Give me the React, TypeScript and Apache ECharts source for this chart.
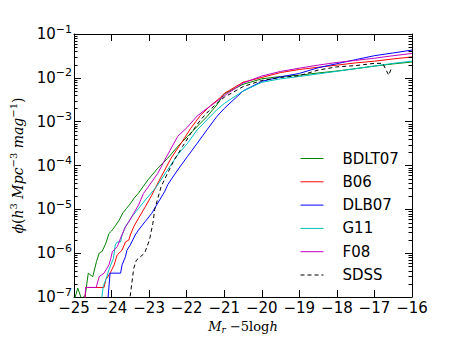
import React, { useEffect, useRef } from "react";
import * as echarts from "echarts";

// ---- data (absolute magnitude M_r - 5 log h, luminosity function phi) ----
const bdlt07Mag = [-25.0, -24.9, -24.8, -24.7, -24.62, -24.5, -24.4, -24.33, -24.25, -24.15, -24.07, -24.0, -23.9, -23.8, -23.7, -23.6, -23.5, -23.4, -23.29, -23.16, -23.03, -22.77, -22.51, -22.24, -21.98, -21.72, -21.46, -21.2, -21.0, -20.5, -20.0, -19.5, -19.0, -18.5, -18.0, -17.5, -17.0, -16.5, -16.0];
const bdlt07Phi = [8e-8, 1.6e-7, 9e-8, 1.1e-7, 3.5e-7, 2.9e-7, 6.5e-7, 1.0e-6, 1.1e-6, 1.7e-6, 2.8e-6, 3.2e-6, 4.2e-6, 5.6e-6, 8.3e-6, 1.05e-5, 1.35e-5, 1.8e-5, 2.3e-5, 3.3e-5, 4.7e-5, 8.7e-5, 1.45e-4, 2.7e-4, 4.6e-4, 7.8e-4, 1.3e-3, 2.4e-3, 4.3e-3, 7.1e-3, 9.5e-3, 1.07e-2, 1.15e-2, 1.29e-2, 1.43e-2, 1.62e-2, 1.85e-2, 2.08e-2, 2.3e-2];

const b06Mag = [-24.72, -24.69, -24.2, -24.15, -24.07, -24.02, -23.93, -23.88, -23.85, -23.72, -23.63, -23.54, -23.5, -23.41, -23.28, -23.1, -22.93, -22.8, -22.68, -22.42, -22.15, -21.89, -21.63, -21.37, -21.11, -21.0, -20.5, -20.0, -19.5, -19.0, -18.5, -18.0, -17.5, -17.0, -16.5, -16.0];
const b06Phi = [5e-8, 1.65e-7, 1.65e-7, 2.5e-7, 3.2e-7, 3.8e-7, 5.4e-7, 7.6e-7, 9.1e-7, 1.17e-6, 1.8e-6, 2.0e-6, 2.6e-6, 4.0e-6, 6.3e-6, 1.15e-5, 2.1e-5, 3.5e-5, 5.5e-5, 1.45e-4, 3.2e-4, 7.1e-4, 1.4e-3, 2.3e-3, 3.5e-3, 4.4e-3, 7.9e-3, 1.02e-2, 1.32e-2, 1.55e-2, 1.74e-2, 1.95e-2, 2.19e-2, 2.4e-2, 2.7e-2, 3.0e-2];

const dlb07Mag = [-24.12, -24.04, -23.76, -23.72, -23.63, -23.59, -23.5, -23.37, -23.28, -23.11, -22.93, -22.8, -22.59, -22.5, -22.24, -21.98, -21.72, -21.46, -21.2, -21.0, -20.5, -20.0, -19.5, -19.0, -18.5, -18.0, -17.5, -17.0, -16.5, -16.0];
const dlb07Phi = [5e-8, 3.5e-7, 3.5e-7, 5.4e-7, 8.3e-7, 1.17e-6, 1.55e-6, 2.6e-6, 3.4e-6, 5.2e-6, 8.1e-6, 1.26e-5, 2.5e-5, 3.7e-5, 7.9e-5, 1.6e-4, 3.2e-4, 6.5e-4, 1.3e-3, 2.0e-3, 5.0e-3, 8.3e-3, 1.05e-2, 1.26e-2, 1.7e-2, 2.1e-2, 2.6e-2, 3.2e-2, 3.7e-2, 4.3e-2];

const g11Mag = [-24.3, -24.22, -24.15, -24.07, -23.95, -23.9, -23.85, -23.76, -23.72, -23.63, -23.46, -23.28, -23.06, -22.8, -22.51, -22.24, -21.98, -21.72, -21.46, -21.2, -21.0, -20.5, -20.0, -19.5, -19.0, -18.5, -18.0, -17.5, -17.0, -16.5, -16.0];
const g11Phi = [5e-8, 1.8e-7, 2.5e-7, 4.2e-7, 7.6e-7, 1.55e-6, 1.8e-6, 1.8e-6, 2.6e-6, 4.0e-6, 6.8e-6, 1.05e-5, 1.8e-5, 3.3e-5, 7.9e-5, 1.75e-4, 3.2e-4, 6.5e-4, 1.1e-3, 1.85e-3, 2.6e-3, 5.0e-3, 7.9e-3, 9.5e-3, 1.07e-2, 1.23e-2, 1.41e-2, 1.62e-2, 1.86e-2, 2.14e-2, 2.4e-2];

const f08Mag = [-24.72, -24.69, -24.41, -24.33, -24.2, -24.07, -24.02, -23.98, -23.85, -23.76, -23.63, -23.54, -23.41, -23.28, -23.15, -23.03, -22.77, -22.51, -22.24, -21.98, -21.72, -21.46, -21.2, -21.0, -20.5, -20.0, -19.5, -19.0, -18.5, -18.0, -17.5, -17.0, -16.5, -16.0];
const f08Phi = [5e-8, 1.65e-7, 1.65e-7, 2.9e-7, 3.5e-7, 5.4e-7, 7.6e-7, 1.07e-6, 1.4e-6, 2.2e-6, 4.0e-6, 5.2e-6, 8.1e-6, 1.26e-5, 2.3e-5, 3.2e-5, 6.6e-5, 1.74e-4, 4.6e-4, 7.5e-4, 1.35e-3, 2.0e-3, 2.9e-3, 3.9e-3, 7.6e-3, 1.1e-2, 1.4e-2, 1.66e-2, 1.95e-2, 2.24e-2, 2.5e-2, 2.8e-2, 3.2e-2, 3.6e-2];

const sdssMag = [-23.55, -23.41, -23.34, -23.12, -22.99, -22.9, -22.85, -22.68, -22.51, -22.33, -22.11, -21.89, -21.63, -21.4, -21.2, -21.0, -20.5, -20.0, -19.5, -19.0, -18.5, -18.0, -17.5, -17.0, -16.78, -16.62, -16.53];
const sdssPhi = [5e-8, 4.5e-7, 6.9e-7, 1.0e-6, 2.0e-6, 4.8e-6, 1.0e-5, 3.3e-5, 6.6e-5, 1.35e-4, 2.7e-4, 5.4e-4, 1.1e-3, 1.8e-3, 2.6e-3, 3.6e-3, 6.3e-3, 8.7e-3, 1.02e-2, 1.12e-2, 1.5e-2, 1.78e-2, 1.9e-2, 2.14e-2, 2.14e-2, 1.15e-2, 1.8e-2];

const seriesNames = ["BDLT07", "B06", "DLB07", "G11", "F08", "SDSS"];
const seriesColors = ["#008000", "#ff0000", "#0000ff", "#00bfbf", "#bf00bf", "#000000"];
const seriesMags = [bdlt07Mag, b06Mag, dlb07Mag, g11Mag, f08Mag, sdssMag];
const seriesPhis = [bdlt07Phi, b06Phi, dlb07Phi, g11Phi, f08Phi, sdssPhi];

const xMin = -25;
const xMax = -16;
const yMin = 1e-7;
const yMax = 1e-1;

const FONT = "DejaVu Sans";
const SERIF = "DejaVu Serif";

// minor tick values for the log axis (2..9 x each decade)
const minorTickVals: number[] = [];
for (let e = -7; e < -1; e++) {
  for (let k = 2; k <= 9; k++) minorTickVals.push(k * Math.pow(10, e));
}

function fmtMinus(v: number) {
  return v < 0 ? "\u2212" + Math.abs(v) : String(v);
}

export default function App() {
  const ref = useRef<HTMLDivElement>(null);
  useEffect(() => {
    if (!ref.current) return;
    const chart = echarts.init(ref.current, undefined, { renderer: "svg" });

    const lineSeries = seriesNames.map((name, i) => ({
      name,
      type: "line",
      data: seriesMags[i].map((m, j) => [m, seriesPhis[i][j]]),
      symbol: "none",
      showSymbol: false,
      clip: true,
      lineStyle: {
        color: seriesColors[i],
        width: 1,
        type: name === "SDSS" ? [4, 3] : "solid",
      },
      itemStyle: { color: seriesColors[i] },
      z: 3 + i,
    }));

    const minorSeries = {
      type: "custom",
      name: "minorTicks",
      xAxisIndex: 0,
      yAxisIndex: 0,
      silent: true,
      clip: false,
      data: minorTickVals.map((v) => [xMin, v]),
      renderItem: (params: any, api: any) => {
        const v = api.value(1);
        const pL = api.coord([xMin, v]);
        const pR = api.coord([xMax, v]);
        const y = Math.round(pL[1]) + 0.5;
        return {
          type: "group",
          children: [
            {
              type: "line",
              shape: { x1: pL[0], y1: y, x2: pL[0] + 3.5, y2: y },
              style: { stroke: "#000", lineWidth: 1 },
            },
            {
              type: "line",
              shape: { x1: pR[0], y1: y, x2: pR[0] - 3.5, y2: y },
              style: { stroke: "#000", lineWidth: 1 },
            },
          ],
        };
      },
      z: 10,
    };

    const axisLine = { show: true, lineStyle: { color: "#000", width: 1 } };

    chart.setOption({
      animation: false,
      backgroundColor: "#fff",
      grid: { left: 68, right: 46, top: 34, bottom: 46, containLabel: false },
      legend: {
        data: seriesNames,
        orient: "vertical",
        left: 295,
        top: 146,
        itemWidth: 23,
        itemHeight: 15,
        itemGap: 8.3,
        itemStyle: { opacity: 0 },
        lineStyle: { width: 1 },
        textStyle: {
          fontFamily: FONT,
          fontSize: 15,
          color: "#000",
          padding: [0, 0, 0, 14],
          lineHeight: 15,
        },
      },
      xAxis: [
        {
          type: "value",
          min: xMin,
          max: xMax,
          interval: 1,
          position: "bottom",
          axisLine,
          splitLine: { show: false },
          axisTick: { show: true, inside: true, length: 7, lineStyle: { color: "#000" } },
          axisLabel: {
            fontFamily: FONT,
            fontSize: 15,
            color: "#000",
            margin: 3,
            formatter: (v: number) => fmtMinus(v),
          },
          name: "{i|M}{sub|r}{n| \u22125log}{i|h}",
          nameLocation: "middle",
          nameGap: 17,
          nameTextStyle: {
            fontFamily: SERIF,
            fontSize: 13,
            color: "#000",
            rich: {
              i: { fontFamily: SERIF, fontStyle: "italic", fontSize: 13, color: "#000" },
              n: { fontFamily: SERIF, fontSize: 13, color: "#000" },
              sub: { fontFamily: SERIF, fontStyle: "italic", fontSize: 9, color: "#000", padding: [8, 0, 0, 0] },
            },
          },
        },
        {
          type: "value",
          min: xMin,
          max: xMax,
          interval: 1,
          position: "top",
          axisLine,
          splitLine: { show: false },
          axisTick: { show: true, inside: true, length: 7, lineStyle: { color: "#000" } },
          axisLabel: { show: false },
        },
      ],
      yAxis: [
        {
          type: "log",
          logBase: 10,
          min: yMin,
          max: yMax,
          splitNumber: 6,
          position: "left",
          axisLine,
          splitLine: { show: false },
          axisTick: { show: true, inside: true, length: 7, lineStyle: { color: "#000" } },
          axisLabel: {
            fontFamily: FONT,
            fontSize: 15,
            color: "#000",
            margin: 2,
            formatter: (v: number) => {
              const e = Math.round(Math.log10(v));
              return "{b|10}{sup|" + fmtMinus(e) + "}";
            },
            rich: {
              b: { fontFamily: FONT, fontSize: 15, color: "#000" },
              sup: { fontFamily: FONT, fontSize: 11, color: "#000", padding: [0, 0, 10, 0] },
            },
          },
          name: "{i|\u03d5}{n|(}{i|h}{sup|3}{n| }{i|Mpc}{sup|\u22123}{n| }{i|mag}{sup|\u22121}{n|)}",
          nameLocation: "middle",
          nameRotate: 90,
          nameGap: 47,
          nameTextStyle: {
            fontFamily: SERIF,
            fontSize: 14,
            color: "#000",
            rich: {
              i: { fontFamily: SERIF, fontStyle: "italic", fontSize: 14, color: "#000" },
              n: { fontFamily: SERIF, fontSize: 14, color: "#000" },
              sup: { fontFamily: SERIF, fontSize: 10, color: "#000", padding: [0, 0, 9, 0] },
            },
          },
        },
        {
          type: "log",
          logBase: 10,
          min: yMin,
          max: yMax,
          splitNumber: 6,
          position: "right",
          axisLine,
          splitLine: { show: false },
          axisTick: { show: true, inside: true, length: 7, lineStyle: { color: "#000" } },
          axisLabel: { show: false },
        },
      ],
      series: [...lineSeries, minorSeries],
    });

    return () => chart.dispose();
  }, []);

  return (
    <div
      ref={ref}
      style={{ position: "absolute", left: 0, top: 0, width: 458, height: 343 }}
    />
  );
}
